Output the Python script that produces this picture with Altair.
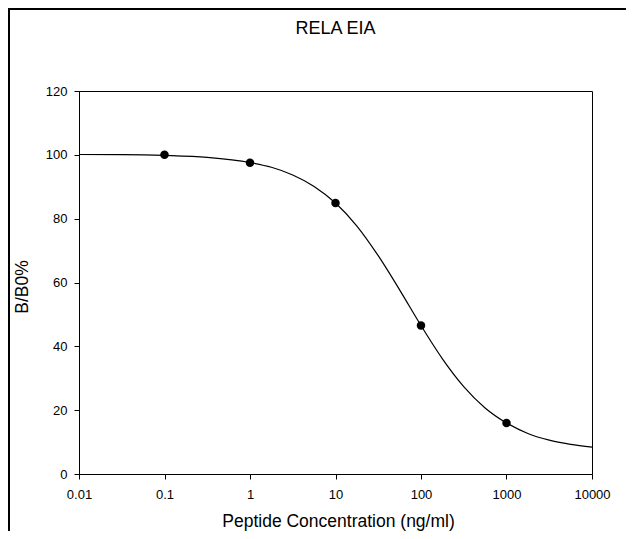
import altair as alt
import pandas as pd

chart_title = "RELA EIA"
x_title = "Peptide Concentration (ng/ml)"
y_title = "B/B0%"

# measured standards
conc = [0.1, 1, 10, 100, 1000]
bb0 = [100.0, 97.5, 84.9, 46.5, 16.0]

# fitted curve
curve_x = [0.01, 0.0316, 0.1, 0.316, 1, 1.78, 3.16, 5.62, 10, 17.8, 31.6,
           56.2, 100, 178, 316, 562, 1000, 1778, 3162, 5623, 10000]
curve_y = [100.1, 100.05, 99.8, 99.2, 97.6, 96.1, 93.7, 90.1, 84.9, 77.7, 68.4,
           57.7, 46.5, 36.1, 27.4, 20.7, 16.0, 12.7, 10.6, 9.3, 8.4]

x_ticks = [0.01, 0.1, 1, 10, 100, 1000, 10000]
y_ticks = [0, 20, 40, 60, 80, 100, 120]

FONT = "Liberation Sans"
W, H = 513, 383

pts = pd.DataFrame({"conc": conc, "bb0": bb0})
crv = pd.DataFrame({"conc": curve_x, "bb0": curve_y})
frame = pd.DataFrame({"k": [0]})

xscale = alt.Scale(type="log", domain=[0.01, 10000], nice=False)
yscale = alt.Scale(domain=[0, 120], nice=False, zero=False)

xaxis = alt.Axis(values=x_ticks, format="~g", title=x_title, grid=False,
                 labelFontSize=13, labelFont=FONT, labelColor="black",
                 labelPadding=9, tickSize=5, tickColor="black",
                 domainColor="black", titleFont=FONT, titleFontSize=17.5,
                 titleFontWeight="normal", titleColor="black",
                 titleX=259, titleY=52, titleBaseline="alphabetic",
                 titleAlign="center", labelFlush=False)
yaxis = alt.Axis(values=y_ticks, title=y_title, grid=False,
                 labelFontSize=13, labelFont=FONT, labelColor="black",
                 labelPadding=7, tickSize=5, tickColor="black",
                 domainColor="black", titleFont=FONT, titleFontSize=17.5,
                 titleFontWeight="normal", titleColor="black",
                 titleX=-52, titleY=H / 2 + 4, titleAngle=270,
                 titleBaseline="alphabetic", titleAlign="center")

line = alt.Chart(crv).mark_line(color="black", strokeWidth=1.2,
                                interpolate="monotone").encode(
    x=alt.X("conc:Q", scale=xscale, axis=xaxis),
    y=alt.Y("bb0:Q", scale=yscale, axis=yaxis),
)

dots = alt.Chart(pts).mark_point(filled=True, color="black", size=72,
                                 opacity=1).encode(
    x=alt.X("conc:Q", scale=xscale, axis=xaxis),
    y=alt.Y("bb0:Q", scale=yscale, axis=yaxis),
)

border = alt.Chart(frame).mark_rect(filled=False, stroke="black",
                                    strokeWidth=2, clip=False).encode(
    x=alt.value(-70), x2=alt.value(W + 80),
    y=alt.value(-82), y2=alt.value(H + 90),
)

chart = alt.layer(border, line, dots).properties(
    width=W, height=H,
    title=alt.TitleParams(chart_title, font=FONT, fontSize=18,
                          fontWeight="normal", color="black",
                          anchor="middle", offset=-30),
    autosize=alt.AutoSizeParams(type="none"),
    padding={"left": 71, "top": 83, "right": 34, "bottom": 57},
).configure_view(stroke="black", strokeWidth=1)

chart.save("out.html", embed_options={"renderer": "svg", "actions": False})
